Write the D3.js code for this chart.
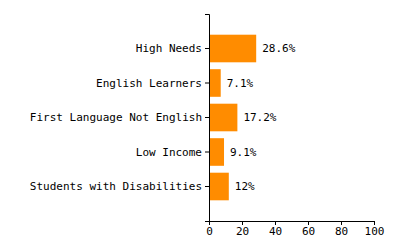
<!DOCTYPE html>
<html>
<head>
<meta charset="utf-8">
<script src="https://cdn.jsdelivr.net/npm/d3@7"></script>
<style>
  body { margin: 0; background: #fff; }
  text { font-family: "DejaVu Sans Mono", "Liberation Mono", monospace; font-size: 11px; fill: #000; }
  .domain, .tick line { stroke: #000; }
</style>
</head>
<body>
<div id="chart"></div>
<script>
var categories = ['High Needs', 'English Learners', 'First Language Not English', 'Low Income', 'Students with Disabilities'];
var values = [28.6, 7.1, 17.2, 9.1, 12];
var labels = ['28.6%', '7.1%', '17.2%', '9.1%', '12%'];
var xTicks = [0, 20, 40, 60, 80, 100];

var width = 400, height = 250;
var margin = {top: 14, right: 26, bottom: 29, left: 209};

var svg = d3.select('#chart').append('svg')
    .attr('width', width)
    .attr('height', height);

var x = d3.scaleLinear()
    .domain([0, 100])
    .range([margin.left, width - margin.right]);

var y = d3.scaleBand()
    .domain(categories)
    .range([margin.top, height - margin.bottom])
    .paddingInner(0.2)
    .paddingOuter(0.6);

// bars
svg.append('g').selectAll('rect')
    .data(values)
  .enter().append('rect')
    .attr('x', x(0))
    .attr('y', function(d, i) { return y(categories[i]); })
    .attr('width', function(d) { return x(d) - x(0); })
    .attr('height', y.bandwidth())
    .attr('fill', '#ff8c00');

// value labels
svg.append('g').selectAll('text')
    .data(values)
  .enter().append('text')
    .attr('x', function(d) { return x(d) + 6; })
    .attr('y', function(d, i) { return y(categories[i]) + y.bandwidth() / 2; })
    .attr('dy', '0.35em')
    .text(function(d, i) { return labels[i]; });

svg.append('g')
    .attr('transform', 'translate(' + margin.left + ',0)')
    .call(d3.axisLeft(y).tickSize(4).tickPadding(3))
    .call(function(g) { g.selectAll('text').style('font-family', null).style('font-size', null); })
    .attr('font-family', null).attr('font-size', null);

svg.append('g')
    .attr('transform', 'translate(0,' + (height - margin.bottom) + ')')
    .call(d3.axisBottom(x).tickValues(xTicks).tickSize(4).tickPadding(2))
    .attr('font-family', null).attr('font-size', null);
</script>
</body>
</html>
